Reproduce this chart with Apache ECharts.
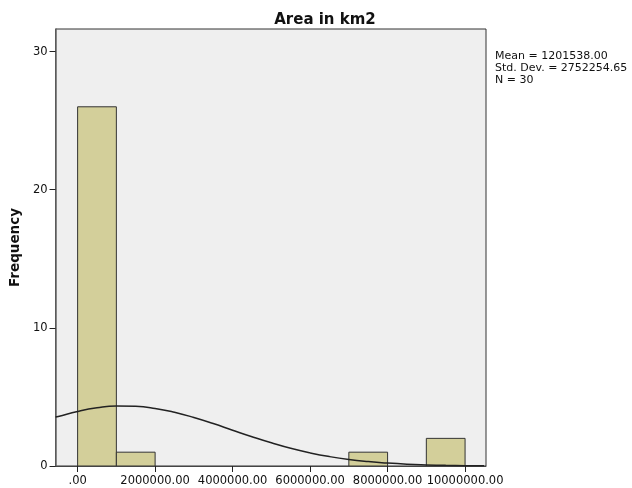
<!DOCTYPE html>
<html>
<head>
<meta charset="utf-8">
<script src="https://cdn.jsdelivr.net/npm/echarts@6/dist/echarts.min.js"></script>
<style>html,body{margin:0;padding:0;background:#fff;}#c{width:632px;height:488px;}</style>
</head>
<body>
<div id="c"></div>
<script>
// Histogram bins: [start, end]
var binStarts = [0, 1000000, 7000000, 9000000];
var binEnds = [1000000, 2000000, 8000000, 10000000];
var binCounts = [26, 1, 1, 2];
// Normal curve
var curveX = [-570000, -500000, 0, 500000, 1000000, 1500000, 2000000, 2500000, 3000000, 3500000, 4000000, 4500000, 5000000, 5500000, 6000000, 6500000, 7000000, 7500000, 8000000, 8500000, 9000000, 9500000, 10000000, 10490000];
var curveY = [3.55, 3.59, 3.95, 4.21, 4.34, 4.32, 4.17, 3.89, 3.51, 3.07, 2.59, 2.12, 1.68, 1.28, 0.95, 0.68, 0.47, 0.32, 0.21, 0.13, 0.08, 0.046, 0.026, 0.014];
var xTicks = [0, 2000000, 4000000, 6000000, 8000000, 10000000];
var xTickLabels = ['.00', '2000000.00', '4000000.00', '6000000.00', '8000000.00', '10000000.00'];
var yTicks = [0, 10, 20, 30];
var statsLines = ['Mean = 1201538.00', 'Std. Dev. = 2752254.65', 'N = 30'];
var titleText = 'Area in km2';
var yName = 'Frequency';

var bins = binStarts.map(function (s, i) { return [s, binEnds[i], binCounts[i]]; });
var curve = curveX.map(function (x, i) { return [x, curveY[i]]; });

var chart = echarts.init(document.getElementById('c'), null, {renderer: 'canvas'});
var font = 'DejaVu Sans';
chart.setOption({
  animation: false,
  backgroundColor: '#ffffff',
  title: {
    text: titleText, left: 320, top: 8, textAlign: 'center',
    textStyle: {fontFamily: font, fontSize: 15, fontWeight: 'bold', color: '#111'}
  },
  grid: {
    left: 54, top: 29, right: 146, bottom: 22, show: true,
    backgroundColor: '#efefef', borderColor: '#333', borderWidth: 1
  },
  xAxis: {
    type: 'value', min: -570000, max: 10540000,
    axisLine: {show: true, onZero: false, lineStyle: {color: '#444', width: 1}},
    splitLine: {show: false},
    axisTick: {show: true, customValues: xTicks, length: 6, lineStyle: {color: '#222'}},
    axisLabel: {
      customValues: xTicks, margin: 9, color: '#111', fontFamily: font, fontSize: 11.5,
      formatter: function (v) { var i = xTicks.indexOf(v); return i >= 0 ? xTickLabels[i] : ''; }
    }
  },
  yAxis: {
    type: 'value', min: 0, max: 31.63,
    name: yName, nameLocation: 'middle', nameGap: 33, nameRotate: 90,
    nameTextStyle: {fontFamily: font, fontSize: 13.5, fontWeight: 'bold', color: '#111'},
    axisLine: {show: true, onZero: false, lineStyle: {color: '#666', width: 1.5}},
    splitLine: {show: false},
    axisTick: {show: true, customValues: yTicks, length: 6, lineStyle: {color: '#222'}},
    axisLabel: {customValues: yTicks, margin: 8, color: '#111', fontFamily: font, fontSize: 11.5}
  },
  graphic: statsLines.map(function (t, i) {
    return {type: 'text', left: 495, top: 51 + i * 12,
      style: {text: t, fill: '#111', font: '11px "DejaVu Sans"'}};
  }),
  series: [
    {
      type: 'custom', data: bins, clip: true,
      renderItem: function (params, api) {
        var p0 = api.coord([api.value(0), api.value(2)]);
        var p1 = api.coord([api.value(1), 0]);
        return {type: 'rect', shape: {x: p0[0], y: p0[1], width: p1[0] - p0[0], height: p1[1] - p0[1]},
          style: {fill: '#d3cf9a', stroke: '#333', lineWidth: 1}};
      },
      encode: {x: [0, 1], y: 2}
    },
    {
      type: 'line', data: curve, smooth: true, showSymbol: false, clip: true,
      lineStyle: {color: '#222', width: 1.5}
    }
  ]
});
</script>
</body>
</html>
